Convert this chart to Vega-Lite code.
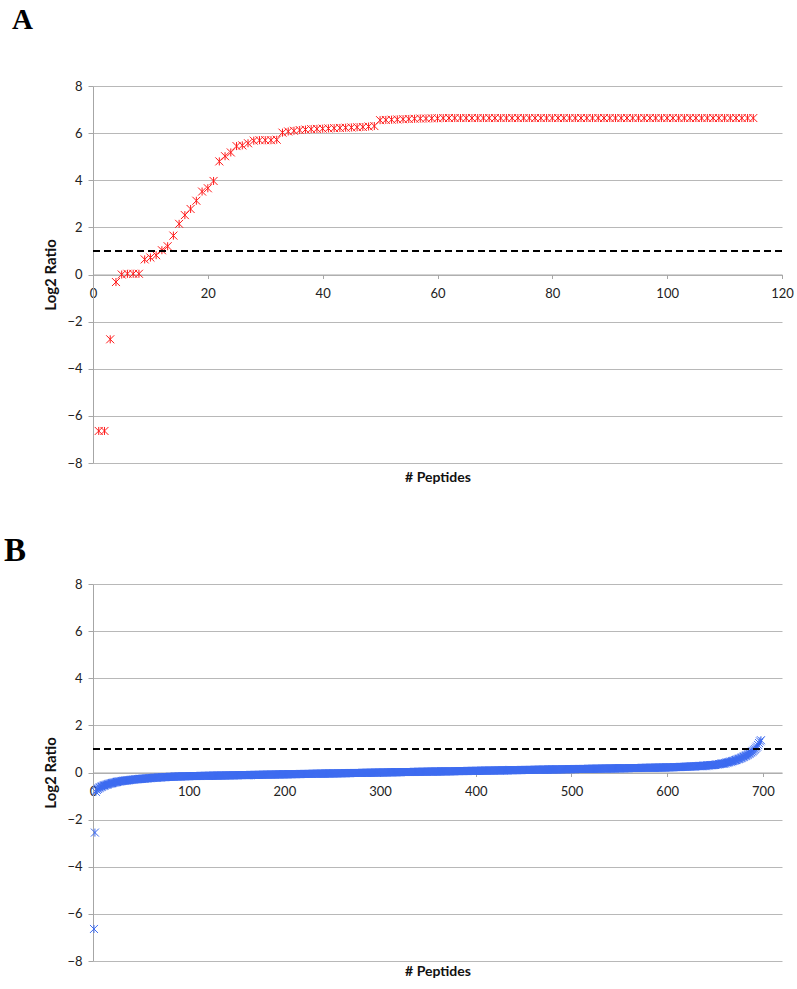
{
"$schema": "https://vega.github.io/schema/vega-lite/v6.json",
"padding": {"left": 4, "top": 6, "right": 0, "bottom": 0},
"bounds": "flush",
"spacing": 121,
"config": {
  "view": {"stroke": null},
  "axis": {"labelFont": "Lato", "labelFontSize": 13, "labelColor": "#222222", "titleFont": "Lato", "titleFontSize": 14, "titleFontWeight": "bold", "titleColor": "#111111", "domainColor": "#A6A6A6", "tickColor": "#A6A6A6", "gridColor": "#B8B8B8", "gridWidth": 1}
},
"vconcat": [
{
  "width": 689, "height": 377,
  "title": {"text": "A", "anchor": "start", "frame": "group", "font": "Liberation Serif", "fontSize": 29, "fontWeight": "bold", "color": "#000000", "dx": -81, "offset": 45},
  "layer": [
    {
      "data": {"values": [
{"i":1,"v":-6.64},{"i":2,"v":-6.64},{"i":3,"v":-2.75},{"i":4,"v":-0.32},{"i":5,"v":0.0},{"i":6,"v":0.03},{"i":7,"v":0.03},{"i":8,"v":0.03},{"i":9,"v":0.64},{"i":10,"v":0.72},
{"i":11,"v":0.82},{"i":12,"v":1.03},{"i":13,"v":1.2},{"i":14,"v":1.65},{"i":15,"v":2.15},{"i":16,"v":2.52},{"i":17,"v":2.78},{"i":18,"v":3.13},{"i":19,"v":3.52},{"i":20,"v":3.66},
{"i":21,"v":3.97},{"i":22,"v":4.8},{"i":23,"v":5.02},{"i":24,"v":5.18},{"i":25,"v":5.45},{"i":26,"v":5.48},{"i":27,"v":5.57},{"i":28,"v":5.68},{"i":29,"v":5.7},{"i":30,"v":5.7},
{"i":31,"v":5.7},{"i":32,"v":5.72},{"i":33,"v":6.02},{"i":34,"v":6.07},{"i":35,"v":6.1},{"i":36,"v":6.13},{"i":37,"v":6.15},{"i":38,"v":6.17},{"i":39,"v":6.18},{"i":40,"v":6.19},
{"i":41,"v":6.2},{"i":42,"v":6.21},{"i":43,"v":6.22},{"i":44,"v":6.23},{"i":45,"v":6.24},{"i":46,"v":6.25},{"i":47,"v":6.26},{"i":48,"v":6.28},{"i":49,"v":6.3},{"i":50,"v":6.55},
{"i":51,"v":6.56},{"i":52,"v":6.57},{"i":53,"v":6.58},{"i":54,"v":6.59},{"i":55,"v":6.6},{"i":56,"v":6.61},{"i":57,"v":6.62},{"i":58,"v":6.62},{"i":59,"v":6.63},{"i":60,"v":6.63},
{"i":61,"v":6.64},{"i":62,"v":6.64},{"i":63,"v":6.64},{"i":64,"v":6.64},{"i":65,"v":6.64},{"i":66,"v":6.64},{"i":67,"v":6.64},{"i":68,"v":6.64},{"i":69,"v":6.64},{"i":70,"v":6.64},
{"i":71,"v":6.64},{"i":72,"v":6.64},{"i":73,"v":6.64},{"i":74,"v":6.64},{"i":75,"v":6.64},{"i":76,"v":6.64},{"i":77,"v":6.64},{"i":78,"v":6.64},{"i":79,"v":6.64},{"i":80,"v":6.64},
{"i":81,"v":6.64},{"i":82,"v":6.64},{"i":83,"v":6.64},{"i":84,"v":6.64},{"i":85,"v":6.64},{"i":86,"v":6.64},{"i":87,"v":6.64},{"i":88,"v":6.64},{"i":89,"v":6.64},{"i":90,"v":6.64},
{"i":91,"v":6.64},{"i":92,"v":6.64},{"i":93,"v":6.64},{"i":94,"v":6.64},{"i":95,"v":6.64},{"i":96,"v":6.64},{"i":97,"v":6.64},{"i":98,"v":6.64},{"i":99,"v":6.64},{"i":100,"v":6.64},
{"i":101,"v":6.64},{"i":102,"v":6.64},{"i":103,"v":6.64},{"i":104,"v":6.64},{"i":105,"v":6.64},{"i":106,"v":6.64},{"i":107,"v":6.64},{"i":108,"v":6.64},{"i":109,"v":6.64},{"i":110,"v":6.64},
{"i":111,"v":6.64},{"i":112,"v":6.64},{"i":113,"v":6.64},{"i":114,"v":6.64},{"i":115,"v":6.64}
      ]},
      "mark": {"type": "point", "shape": "M-1,-1L1,1M-1,1L1,-1M0,-1L0,1", "size": 64, "filled": false, "strokeWidth": 1, "color": "#FF1A1A", "opacity": 1},
      "encoding": {
        "x": {"field": "i", "type": "quantitative", "scale": {"domain": [0, 120], "nice": false, "zero": false},
              "axis": {"orient": "bottom", "offset": -188.5, "values": [0, 20, 40, 60, 80, 100, 120], "grid": false, "tickSize": 4, "labelPadding": 9, "labelFlush": false, "labelOverlap": false, "title": "# Peptides", "titleY": 203, "titleBaseline": "middle"}},
        "y": {"field": "v", "type": "quantitative", "scale": {"domain": [-8, 8], "nice": false, "zero": false},
              "axis": {"values": [-8, -6, -4, -2, 0, 2, 4, 6, 8], "grid": true, "tickSize": 5, "labelPadding": 6, "title": "Log2 Ratio", "titleFontSize": 15, "titlePadding": 8}}
      }
    },
    {
      "data": {"values": [{"t": 1}]},
      "mark": {"type": "rule", "strokeDash": [7, 4], "strokeWidth": 2, "color": "#000000"},
      "encoding": {"y": {"datum": 1}}
    }
  ]
},
{
  "width": 689, "height": 377,
  "title": {"text": "B", "anchor": "start", "frame": "group", "font": "Liberation Serif", "fontSize": 33, "fontWeight": "bold", "color": "#000000", "dx": -89, "offset": 10},
  "layer": [
    {
      "data": {"values": [
{"i":1,"v":-6.64},{"i":2,"v":-2.55},{"i":3,"v":-0.82},{"i":4,"v":-0.74},{"i":5,"v":-0.70},{"i":6,"v":-0.67},{"i":7,"v":-0.64},{"i":8,"v":-0.62},{"i":9,"v":-0.60},{"i":10,"v":-0.58},
{"i":11,"v":-0.56},{"i":12,"v":-0.55},{"i":13,"v":-0.53},{"i":14,"v":-0.52},{"i":15,"v":-0.51},{"i":16,"v":-0.49},{"i":17,"v":-0.48},{"i":18,"v":-0.47},{"i":19,"v":-0.46},{"i":20,"v":-0.45},
{"i":21,"v":-0.44},{"i":22,"v":-0.43},{"i":23,"v":-0.42},{"i":24,"v":-0.41},{"i":25,"v":-0.40},{"i":26,"v":-0.39},{"i":27,"v":-0.38},{"i":28,"v":-0.38},{"i":29,"v":-0.37},{"i":30,"v":-0.36},
{"i":31,"v":-0.36},{"i":32,"v":-0.35},{"i":33,"v":-0.35},{"i":34,"v":-0.34},{"i":35,"v":-0.34},{"i":36,"v":-0.33},{"i":37,"v":-0.33},{"i":38,"v":-0.32},{"i":39,"v":-0.32},{"i":40,"v":-0.31},
{"i":41,"v":-0.31},{"i":42,"v":-0.30},{"i":43,"v":-0.30},{"i":44,"v":-0.29},{"i":45,"v":-0.29},{"i":46,"v":-0.29},{"i":47,"v":-0.28},{"i":48,"v":-0.28},{"i":49,"v":-0.27},{"i":50,"v":-0.27},
{"i":51,"v":-0.27},{"i":52,"v":-0.26},{"i":53,"v":-0.26},{"i":54,"v":-0.26},{"i":55,"v":-0.25},{"i":56,"v":-0.25},{"i":57,"v":-0.25},{"i":58,"v":-0.24},{"i":59,"v":-0.24},{"i":60,"v":-0.24},
{"i":61,"v":-0.23},{"i":62,"v":-0.23},{"i":63,"v":-0.23},{"i":64,"v":-0.22},{"i":65,"v":-0.22},{"i":66,"v":-0.22},{"i":67,"v":-0.22},{"i":68,"v":-0.21},{"i":69,"v":-0.21},{"i":70,"v":-0.21},
{"i":71,"v":-0.21},{"i":72,"v":-0.20},{"i":73,"v":-0.20},{"i":74,"v":-0.20},{"i":75,"v":-0.20},{"i":76,"v":-0.19},{"i":77,"v":-0.19},{"i":78,"v":-0.19},{"i":79,"v":-0.19},{"i":80,"v":-0.19},
{"i":81,"v":-0.18},{"i":82,"v":-0.18},{"i":83,"v":-0.18},{"i":84,"v":-0.18},{"i":85,"v":-0.18},{"i":86,"v":-0.17},{"i":87,"v":-0.17},{"i":88,"v":-0.17},{"i":89,"v":-0.17},{"i":90,"v":-0.17},
{"i":91,"v":-0.17},{"i":92,"v":-0.17},{"i":93,"v":-0.16},{"i":94,"v":-0.16},{"i":95,"v":-0.16},{"i":96,"v":-0.16},{"i":97,"v":-0.16},{"i":98,"v":-0.16},{"i":99,"v":-0.16},{"i":100,"v":-0.16},
{"i":101,"v":-0.15},{"i":102,"v":-0.15},{"i":103,"v":-0.15},{"i":104,"v":-0.15},{"i":105,"v":-0.15},{"i":106,"v":-0.15},{"i":107,"v":-0.15},{"i":108,"v":-0.15},{"i":109,"v":-0.15},{"i":110,"v":-0.15},
{"i":111,"v":-0.15},{"i":112,"v":-0.15},{"i":113,"v":-0.14},{"i":114,"v":-0.14},{"i":115,"v":-0.14},{"i":116,"v":-0.14},{"i":117,"v":-0.14},{"i":118,"v":-0.14},{"i":119,"v":-0.14},{"i":120,"v":-0.14},
{"i":121,"v":-0.14},{"i":122,"v":-0.14},{"i":123,"v":-0.14},{"i":124,"v":-0.14},{"i":125,"v":-0.14},{"i":126,"v":-0.13},{"i":127,"v":-0.13},{"i":128,"v":-0.13},{"i":129,"v":-0.13},{"i":130,"v":-0.13},
{"i":131,"v":-0.13},{"i":132,"v":-0.13},{"i":133,"v":-0.13},{"i":134,"v":-0.13},{"i":135,"v":-0.13},{"i":136,"v":-0.13},{"i":137,"v":-0.13},{"i":138,"v":-0.13},{"i":139,"v":-0.12},{"i":140,"v":-0.12},
{"i":141,"v":-0.12},{"i":142,"v":-0.12},{"i":143,"v":-0.12},{"i":144,"v":-0.12},{"i":145,"v":-0.12},{"i":146,"v":-0.12},{"i":147,"v":-0.12},{"i":148,"v":-0.12},{"i":149,"v":-0.12},{"i":150,"v":-0.12},
{"i":151,"v":-0.12},{"i":152,"v":-0.11},{"i":153,"v":-0.11},{"i":154,"v":-0.11},{"i":155,"v":-0.11},{"i":156,"v":-0.11},{"i":157,"v":-0.11},{"i":158,"v":-0.11},{"i":159,"v":-0.11},{"i":160,"v":-0.11},
{"i":161,"v":-0.11},{"i":162,"v":-0.11},{"i":163,"v":-0.11},{"i":164,"v":-0.11},{"i":165,"v":-0.10},{"i":166,"v":-0.10},{"i":167,"v":-0.10},{"i":168,"v":-0.10},{"i":169,"v":-0.10},{"i":170,"v":-0.10},
{"i":171,"v":-0.10},{"i":172,"v":-0.10},{"i":173,"v":-0.10},{"i":174,"v":-0.10},{"i":175,"v":-0.10},{"i":176,"v":-0.10},{"i":177,"v":-0.10},{"i":178,"v":-0.09},{"i":179,"v":-0.09},{"i":180,"v":-0.09},
{"i":181,"v":-0.09},{"i":182,"v":-0.09},{"i":183,"v":-0.09},{"i":184,"v":-0.09},{"i":185,"v":-0.09},{"i":186,"v":-0.09},{"i":187,"v":-0.09},{"i":188,"v":-0.09},{"i":189,"v":-0.09},{"i":190,"v":-0.09},
{"i":191,"v":-0.08},{"i":192,"v":-0.08},{"i":193,"v":-0.08},{"i":194,"v":-0.08},{"i":195,"v":-0.08},{"i":196,"v":-0.08},{"i":197,"v":-0.08},{"i":198,"v":-0.08},{"i":199,"v":-0.08},{"i":200,"v":-0.08},
{"i":201,"v":-0.08},{"i":202,"v":-0.08},{"i":203,"v":-0.08},{"i":204,"v":-0.07},{"i":205,"v":-0.07},{"i":206,"v":-0.07},{"i":207,"v":-0.07},{"i":208,"v":-0.07},{"i":209,"v":-0.07},{"i":210,"v":-0.07},
{"i":211,"v":-0.07},{"i":212,"v":-0.07},{"i":213,"v":-0.07},{"i":214,"v":-0.07},{"i":215,"v":-0.07},{"i":216,"v":-0.07},{"i":217,"v":-0.06},{"i":218,"v":-0.06},{"i":219,"v":-0.06},{"i":220,"v":-0.06},
{"i":221,"v":-0.06},{"i":222,"v":-0.06},{"i":223,"v":-0.06},{"i":224,"v":-0.06},{"i":225,"v":-0.06},{"i":226,"v":-0.06},{"i":227,"v":-0.06},{"i":228,"v":-0.06},{"i":229,"v":-0.06},{"i":230,"v":-0.05},
{"i":231,"v":-0.05},{"i":232,"v":-0.05},{"i":233,"v":-0.05},{"i":234,"v":-0.05},{"i":235,"v":-0.05},{"i":236,"v":-0.05},{"i":237,"v":-0.05},{"i":238,"v":-0.05},{"i":239,"v":-0.05},{"i":240,"v":-0.05},
{"i":241,"v":-0.05},{"i":242,"v":-0.05},{"i":243,"v":-0.04},{"i":244,"v":-0.04},{"i":245,"v":-0.04},{"i":246,"v":-0.04},{"i":247,"v":-0.04},{"i":248,"v":-0.04},{"i":249,"v":-0.04},{"i":250,"v":-0.04},
{"i":251,"v":-0.04},{"i":252,"v":-0.04},{"i":253,"v":-0.04},{"i":254,"v":-0.04},{"i":255,"v":-0.04},{"i":256,"v":-0.03},{"i":257,"v":-0.03},{"i":258,"v":-0.03},{"i":259,"v":-0.03},{"i":260,"v":-0.03},
{"i":261,"v":-0.03},{"i":262,"v":-0.03},{"i":263,"v":-0.03},{"i":264,"v":-0.03},{"i":265,"v":-0.03},{"i":266,"v":-0.03},{"i":267,"v":-0.03},{"i":268,"v":-0.03},{"i":269,"v":-0.02},{"i":270,"v":-0.02},
{"i":271,"v":-0.02},{"i":272,"v":-0.02},{"i":273,"v":-0.02},{"i":274,"v":-0.02},{"i":275,"v":-0.02},{"i":276,"v":-0.02},{"i":277,"v":-0.02},{"i":278,"v":-0.02},{"i":279,"v":-0.02},{"i":280,"v":-0.02},
{"i":281,"v":-0.02},{"i":282,"v":-0.01},{"i":283,"v":-0.01},{"i":284,"v":-0.01},{"i":285,"v":-0.01},{"i":286,"v":-0.01},{"i":287,"v":-0.01},{"i":288,"v":-0.01},{"i":289,"v":-0.01},{"i":290,"v":-0.01},
{"i":291,"v":-0.01},{"i":292,"v":-0.01},{"i":293,"v":-0.01},{"i":294,"v":-0.01},{"i":295,"v":0},{"i":296,"v":0},{"i":297,"v":0},{"i":298,"v":0},{"i":299,"v":0},{"i":300,"v":0},
{"i":301,"v":0},{"i":302,"v":0},{"i":303,"v":0},{"i":304,"v":0},{"i":305,"v":0},{"i":306,"v":0},{"i":307,"v":0},{"i":308,"v":0.01},{"i":309,"v":0.01},{"i":310,"v":0.01},
{"i":311,"v":0.01},{"i":312,"v":0.01},{"i":313,"v":0.01},{"i":314,"v":0.01},{"i":315,"v":0.01},{"i":316,"v":0.01},{"i":317,"v":0.01},{"i":318,"v":0.01},{"i":319,"v":0.01},{"i":320,"v":0.01},
{"i":321,"v":0.01},{"i":322,"v":0.02},{"i":323,"v":0.02},{"i":324,"v":0.02},{"i":325,"v":0.02},{"i":326,"v":0.02},{"i":327,"v":0.02},{"i":328,"v":0.02},{"i":329,"v":0.02},{"i":330,"v":0.02},
{"i":331,"v":0.02},{"i":332,"v":0.02},{"i":333,"v":0.02},{"i":334,"v":0.02},{"i":335,"v":0.02},{"i":336,"v":0.03},{"i":337,"v":0.03},{"i":338,"v":0.03},{"i":339,"v":0.03},{"i":340,"v":0.03},
{"i":341,"v":0.03},{"i":342,"v":0.03},{"i":343,"v":0.03},{"i":344,"v":0.03},{"i":345,"v":0.03},{"i":346,"v":0.03},{"i":347,"v":0.03},{"i":348,"v":0.03},{"i":349,"v":0.03},{"i":350,"v":0.04},
{"i":351,"v":0.04},{"i":352,"v":0.04},{"i":353,"v":0.04},{"i":354,"v":0.04},{"i":355,"v":0.04},{"i":356,"v":0.04},{"i":357,"v":0.04},{"i":358,"v":0.04},{"i":359,"v":0.04},{"i":360,"v":0.04},
{"i":361,"v":0.04},{"i":362,"v":0.04},{"i":363,"v":0.04},{"i":364,"v":0.05},{"i":365,"v":0.05},{"i":366,"v":0.05},{"i":367,"v":0.05},{"i":368,"v":0.05},{"i":369,"v":0.05},{"i":370,"v":0.05},
{"i":371,"v":0.05},{"i":372,"v":0.05},{"i":373,"v":0.05},{"i":374,"v":0.05},{"i":375,"v":0.05},{"i":376,"v":0.05},{"i":377,"v":0.05},{"i":378,"v":0.06},{"i":379,"v":0.06},{"i":380,"v":0.06},
{"i":381,"v":0.06},{"i":382,"v":0.06},{"i":383,"v":0.06},{"i":384,"v":0.06},{"i":385,"v":0.06},{"i":386,"v":0.06},{"i":387,"v":0.06},{"i":388,"v":0.06},{"i":389,"v":0.06},{"i":390,"v":0.06},
{"i":391,"v":0.06},{"i":392,"v":0.07},{"i":393,"v":0.07},{"i":394,"v":0.07},{"i":395,"v":0.07},{"i":396,"v":0.07},{"i":397,"v":0.07},{"i":398,"v":0.07},{"i":399,"v":0.07},{"i":400,"v":0.07},
{"i":401,"v":0.07},{"i":402,"v":0.07},{"i":403,"v":0.07},{"i":404,"v":0.07},{"i":405,"v":0.07},{"i":406,"v":0.08},{"i":407,"v":0.08},{"i":408,"v":0.08},{"i":409,"v":0.08},{"i":410,"v":0.08},
{"i":411,"v":0.08},{"i":412,"v":0.08},{"i":413,"v":0.08},{"i":414,"v":0.08},{"i":415,"v":0.08},{"i":416,"v":0.08},{"i":417,"v":0.08},{"i":418,"v":0.08},{"i":419,"v":0.08},{"i":420,"v":0.09},
{"i":421,"v":0.09},{"i":422,"v":0.09},{"i":423,"v":0.09},{"i":424,"v":0.09},{"i":425,"v":0.09},{"i":426,"v":0.09},{"i":427,"v":0.09},{"i":428,"v":0.09},{"i":429,"v":0.09},{"i":430,"v":0.09},
{"i":431,"v":0.09},{"i":432,"v":0.09},{"i":433,"v":0.09},{"i":434,"v":0.10},{"i":435,"v":0.10},{"i":436,"v":0.10},{"i":437,"v":0.10},{"i":438,"v":0.10},{"i":439,"v":0.10},{"i":440,"v":0.10},
{"i":441,"v":0.10},{"i":442,"v":0.10},{"i":443,"v":0.10},{"i":444,"v":0.10},{"i":445,"v":0.10},{"i":446,"v":0.10},{"i":447,"v":0.10},{"i":448,"v":0.11},{"i":449,"v":0.11},{"i":450,"v":0.11},
{"i":451,"v":0.11},{"i":452,"v":0.11},{"i":453,"v":0.11},{"i":454,"v":0.11},{"i":455,"v":0.11},{"i":456,"v":0.11},{"i":457,"v":0.11},{"i":458,"v":0.11},{"i":459,"v":0.11},{"i":460,"v":0.11},
{"i":461,"v":0.11},{"i":462,"v":0.12},{"i":463,"v":0.12},{"i":464,"v":0.12},{"i":465,"v":0.12},{"i":466,"v":0.12},{"i":467,"v":0.12},{"i":468,"v":0.12},{"i":469,"v":0.12},{"i":470,"v":0.12},
{"i":471,"v":0.12},{"i":472,"v":0.12},{"i":473,"v":0.12},{"i":474,"v":0.12},{"i":475,"v":0.12},{"i":476,"v":0.13},{"i":477,"v":0.13},{"i":478,"v":0.13},{"i":479,"v":0.13},{"i":480,"v":0.13},
{"i":481,"v":0.13},{"i":482,"v":0.13},{"i":483,"v":0.13},{"i":484,"v":0.13},{"i":485,"v":0.13},{"i":486,"v":0.13},{"i":487,"v":0.13},{"i":488,"v":0.13},{"i":489,"v":0.13},{"i":490,"v":0.14},
{"i":491,"v":0.14},{"i":492,"v":0.14},{"i":493,"v":0.14},{"i":494,"v":0.14},{"i":495,"v":0.14},{"i":496,"v":0.14},{"i":497,"v":0.14},{"i":498,"v":0.14},{"i":499,"v":0.14},{"i":500,"v":0.14},
{"i":501,"v":0.14},{"i":502,"v":0.14},{"i":503,"v":0.14},{"i":504,"v":0.15},{"i":505,"v":0.15},{"i":506,"v":0.15},{"i":507,"v":0.15},{"i":508,"v":0.15},{"i":509,"v":0.15},{"i":510,"v":0.15},
{"i":511,"v":0.15},{"i":512,"v":0.15},{"i":513,"v":0.15},{"i":514,"v":0.15},{"i":515,"v":0.15},{"i":516,"v":0.15},{"i":517,"v":0.15},{"i":518,"v":0.16},{"i":519,"v":0.16},{"i":520,"v":0.16},
{"i":521,"v":0.16},{"i":522,"v":0.16},{"i":523,"v":0.16},{"i":524,"v":0.16},{"i":525,"v":0.16},{"i":526,"v":0.16},{"i":527,"v":0.16},{"i":528,"v":0.16},{"i":529,"v":0.16},{"i":530,"v":0.16},
{"i":531,"v":0.16},{"i":532,"v":0.17},{"i":533,"v":0.17},{"i":534,"v":0.17},{"i":535,"v":0.17},{"i":536,"v":0.17},{"i":537,"v":0.17},{"i":538,"v":0.17},{"i":539,"v":0.17},{"i":540,"v":0.17},
{"i":541,"v":0.17},{"i":542,"v":0.17},{"i":543,"v":0.17},{"i":544,"v":0.17},{"i":545,"v":0.17},{"i":546,"v":0.18},{"i":547,"v":0.18},{"i":548,"v":0.18},{"i":549,"v":0.18},{"i":550,"v":0.18},
{"i":551,"v":0.18},{"i":552,"v":0.18},{"i":553,"v":0.18},{"i":554,"v":0.18},{"i":555,"v":0.18},{"i":556,"v":0.18},{"i":557,"v":0.18},{"i":558,"v":0.18},{"i":559,"v":0.18},{"i":560,"v":0.19},
{"i":561,"v":0.19},{"i":562,"v":0.19},{"i":563,"v":0.19},{"i":564,"v":0.19},{"i":565,"v":0.19},{"i":566,"v":0.19},{"i":567,"v":0.19},{"i":568,"v":0.19},{"i":569,"v":0.19},{"i":570,"v":0.19},
{"i":571,"v":0.19},{"i":572,"v":0.19},{"i":573,"v":0.19},{"i":574,"v":0.20},{"i":575,"v":0.20},{"i":576,"v":0.20},{"i":577,"v":0.20},{"i":578,"v":0.20},{"i":579,"v":0.20},{"i":580,"v":0.20},
{"i":581,"v":0.20},{"i":582,"v":0.20},{"i":583,"v":0.20},{"i":584,"v":0.20},{"i":585,"v":0.20},{"i":586,"v":0.20},{"i":587,"v":0.20},{"i":588,"v":0.21},{"i":589,"v":0.21},{"i":590,"v":0.21},
{"i":591,"v":0.21},{"i":592,"v":0.21},{"i":593,"v":0.21},{"i":594,"v":0.21},{"i":595,"v":0.21},{"i":596,"v":0.21},{"i":597,"v":0.21},{"i":598,"v":0.21},{"i":599,"v":0.22},{"i":600,"v":0.22},
{"i":601,"v":0.22},{"i":602,"v":0.22},{"i":603,"v":0.22},{"i":604,"v":0.22},{"i":605,"v":0.22},{"i":606,"v":0.22},{"i":607,"v":0.23},{"i":608,"v":0.23},{"i":609,"v":0.23},{"i":610,"v":0.23},
{"i":611,"v":0.23},{"i":612,"v":0.23},{"i":613,"v":0.23},{"i":614,"v":0.24},{"i":615,"v":0.24},{"i":616,"v":0.24},{"i":617,"v":0.24},{"i":618,"v":0.24},{"i":619,"v":0.24},{"i":620,"v":0.25},
{"i":621,"v":0.25},{"i":622,"v":0.25},{"i":623,"v":0.25},{"i":624,"v":0.25},{"i":625,"v":0.26},{"i":626,"v":0.26},{"i":627,"v":0.26},{"i":628,"v":0.26},{"i":629,"v":0.26},{"i":630,"v":0.27},
{"i":631,"v":0.27},{"i":632,"v":0.27},{"i":633,"v":0.27},{"i":634,"v":0.28},{"i":635,"v":0.28},{"i":636,"v":0.28},{"i":637,"v":0.28},{"i":638,"v":0.29},{"i":639,"v":0.29},{"i":640,"v":0.29},
{"i":641,"v":0.29},{"i":642,"v":0.30},{"i":643,"v":0.30},{"i":644,"v":0.30},{"i":645,"v":0.31},{"i":646,"v":0.31},{"i":647,"v":0.31},{"i":648,"v":0.32},{"i":649,"v":0.32},{"i":650,"v":0.32},
{"i":651,"v":0.34},{"i":652,"v":0.34},{"i":653,"v":0.34},{"i":654,"v":0.36},{"i":655,"v":0.36},{"i":656,"v":0.36},{"i":657,"v":0.38},{"i":658,"v":0.38},{"i":659,"v":0.38},{"i":660,"v":0.40},
{"i":661,"v":0.40},{"i":662,"v":0.42},{"i":663,"v":0.42},{"i":664,"v":0.44},{"i":665,"v":0.44},{"i":666,"v":0.46},{"i":667,"v":0.46},{"i":668,"v":0.48},{"i":669,"v":0.49},{"i":670,"v":0.50},
{"i":671,"v":0.52},{"i":672,"v":0.53},{"i":673,"v":0.55},{"i":674,"v":0.56},{"i":675,"v":0.58},{"i":676,"v":0.59},{"i":677,"v":0.61},{"i":678,"v":0.63},{"i":679,"v":0.65},{"i":680,"v":0.67},
{"i":681,"v":0.69},{"i":682,"v":0.71},{"i":683,"v":0.73},{"i":684,"v":0.75},{"i":685,"v":0.78},{"i":686,"v":0.80},{"i":687,"v":0.83},{"i":688,"v":0.86},{"i":689,"v":0.89},{"i":690,"v":0.92},
{"i":691,"v":0.96},{"i":692,"v":1.00},{"i":693,"v":1.05},{"i":694,"v":1.10},{"i":695,"v":1.17},{"i":696,"v":1.25},{"i":697,"v":1.32},{"i":698,"v":1.37}
      ]},
      "mark": {"type": "point", "shape": "M-1,-1L1,1M-1,1L1,-1M0,-1L0,1", "size": 64, "filled": false, "strokeWidth": 1, "color": "#3D6BF0", "opacity": 1},
      "encoding": {
        "x": {"field": "i", "type": "quantitative", "scale": {"domain": [0, 720], "nice": false, "zero": false},
              "axis": {"orient": "bottom", "offset": -188.5, "values": [0, 100, 200, 300, 400, 500, 600, 700], "grid": false, "tickSize": 4, "labelPadding": 9, "labelFlush": false, "labelOverlap": false, "title": "# Peptides", "titleY": 199, "titleBaseline": "middle"}},
        "y": {"field": "v", "type": "quantitative", "scale": {"domain": [-8, 8], "nice": false, "zero": false},
              "axis": {"values": [-8, -6, -4, -2, 0, 2, 4, 6, 8], "grid": true, "tickSize": 5, "labelPadding": 6, "title": "Log2 Ratio", "titleFontSize": 15, "titlePadding": 8}}
      }
    },
    {
      "data": {"values": [{"t": 1}]},
      "mark": {"type": "rule", "strokeDash": [7, 4], "strokeWidth": 2, "color": "#000000"},
      "encoding": {"y": {"datum": 1}}
    }
  ]
}
]
}
